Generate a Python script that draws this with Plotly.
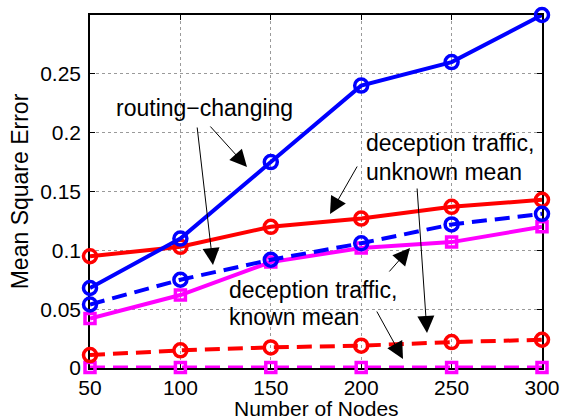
import plotly.graph_objects as go

nodes = [50, 100, 150, 200, 250, 300]

routing_changing = [0.068, 0.110, 0.175, 0.240, 0.260, 0.300]
routing_changing_dash = [0.054, 0.075, 0.092, 0.106, 0.122, 0.131]
deception_unknown = [0.095, 0.103, 0.120, 0.127, 0.137, 0.143]
deception_unknown_dash = [0.011, 0.015, 0.0175, 0.019, 0.022, 0.024]
deception_known = [0.042, 0.062, 0.090, 0.102, 0.107, 0.120]
deception_known_dash = [0.0005, 0.0005, 0.0005, 0.0005, 0.0005, 0.0005]

ytick_vals = [0, 0.05, 0.1, 0.15, 0.2, 0.25]
ytick_text = ["0", "0.05", "0.1", "0.15", "0.2", "0.25"]
xtick_vals = [50, 100, 150, 200, 250, 300]

BLUE = "#0000FF"
RED = "#FF0000"
MAG = "#FF00FF"
FONT = "Liberation Sans, Arial, Helvetica, sans-serif"
DASH = "15px,8px"

series = [
    (deception_known_dash, MAG, DASH, "square-open", 10),
    (deception_known, MAG, "solid", "square-open", 10),
    (deception_unknown_dash, RED, DASH, "circle-open", 13),
    (deception_unknown, RED, "solid", "circle-open", 13),
    (routing_changing_dash, BLUE, DASH, "circle-open", 13),
    (routing_changing, BLUE, "solid", "circle-open", 13),
]

fig = go.Figure()
for ys, col, dash, sym, sz in series:
    fig.add_trace(go.Scatter(
        x=nodes, y=ys, mode="lines+markers",
        line=dict(color=col, width=4, dash=dash),
        marker=dict(symbol=sym, size=sz, color=col, line=dict(color=col, width=3.5)),
        cliponaxis=False, showlegend=False,
    ))

# plot area geometry in pixels (for annotation placement)
L, R, T, B = 90, 24, 15, 52
W, H = 566 - L - R, 420 - T - B


def px(xp, yp):
    return (xp - L) / W, (420 - B - yp) / H


annotations = []
texts = [
    ("routing\u2212changing", 114, 108),
    ("deception traffic,", 364, 143),
    ("unknown mean", 364, 172),
    ("deception traffic,", 227, 290),
    ("known mean", 227, 317),
]
for t, xp, yp in texts:
    xx, yy = px(xp, yp)
    annotations.append(dict(text=t, x=xx, y=yy, xref="paper", yref="paper",
                            xanchor="left", yanchor="middle", showarrow=False,
                            font=dict(size=23, color="black", family=FONT)))

# x-axis title placed just under the tick labels
xt, yt = px(316, 421)
annotations.append(dict(text="Number of Nodes", x=xt, y=yt, xref="paper", yref="paper",
                        xanchor="center", yanchor="bottom", showarrow=False, borderpad=0,
                        font=dict(size=21, color="black", family=FONT)))

arrows = [
    ((213, 265), (197, 126)),
    ((247, 167), (209, 125)),
    ((330, 214), (358, 165)),
    ((427, 333), (417, 187)),
    ((410, 248), (388, 273)),
    ((403, 359), (376, 310)),
]
for (hx, hy), (tx, ty) in arrows:
    xx, yy = px(hx, hy)
    annotations.append(dict(text="", x=xx, y=yy, xref="paper", yref="paper",
                            ax=tx - hx, ay=ty - hy, showarrow=True,
                            arrowhead=2, arrowsize=3.4, arrowwidth=1,
                            arrowcolor="black"))

axis_common = dict(
    showline=True, linecolor="black", linewidth=1.5, mirror="ticks",
    ticks="inside", ticklen=5, tickwidth=1, tickcolor="black",
    showgrid=True, gridcolor="#9a9a9a", griddash="dot", gridwidth=1,
    zeroline=False, layer="below traces", automargin=False,
    tickfont=dict(size=21, color="black", family=FONT),
)

fig.update_layout(
    width=566, height=420,
    margin=dict(l=L, r=R, t=T, b=B),
    paper_bgcolor="white", plot_bgcolor="white",
    xaxis=dict(range=[50, 300], tickvals=xtick_vals, ticklabelstandoff=0,
               **axis_common),
    yaxis=dict(range=[0, 0.3], tickvals=ytick_vals, ticktext=ytick_text, ticklabelstandoff=3,
               title=dict(text="Mean Square Error", font=dict(size=23, color="black", family=FONT), standoff=5),
               **axis_common),
    annotations=annotations,
)

fig.write_html("out.html")
